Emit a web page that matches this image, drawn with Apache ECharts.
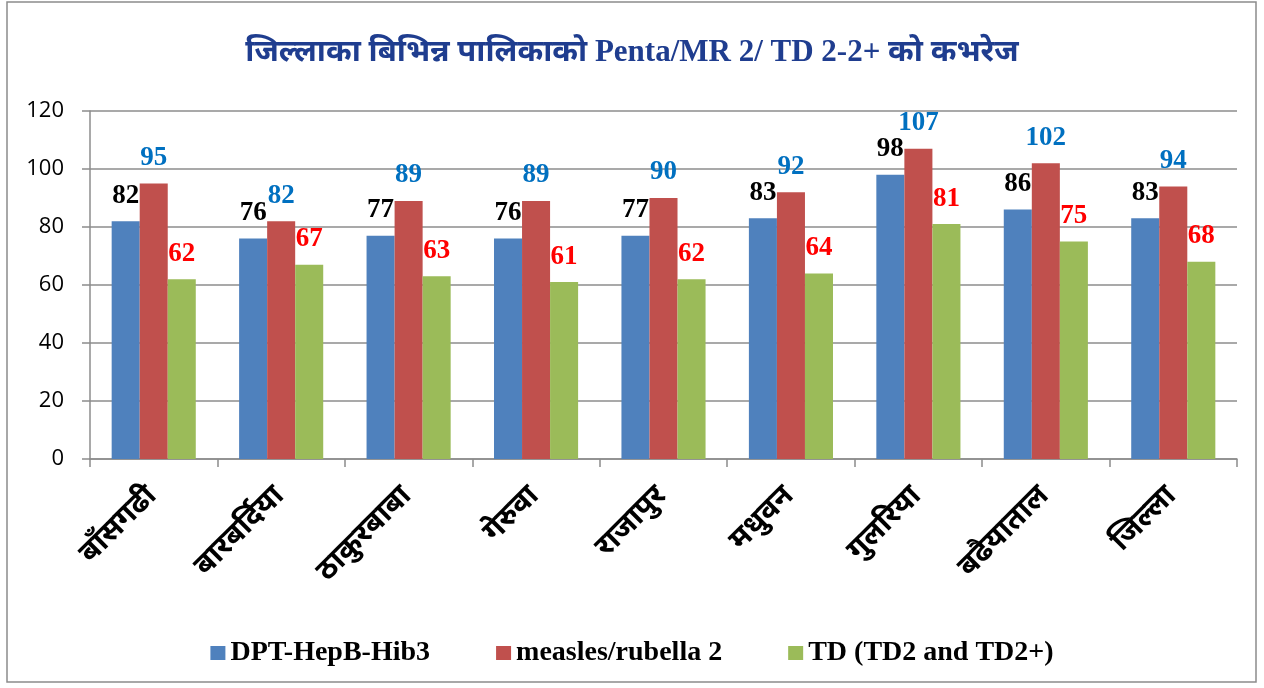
<!DOCTYPE html>
<html><head><meta charset="utf-8">
<script src="https://cdn.jsdelivr.net/npm/echarts@6/dist/echarts.min.js"></script>
<style>html,body{margin:0;padding:0;background:#fff}#c{width:1264px;height:688px}</style>
</head><body><div id="c"></div>
<script>
const categories = ['बाँसगढी','बारबर्दिया','ठाकुरबाबा','गेरुवा','राजापुर','मधुवन','गुलरिया','बढैयाताल','जिल्ला'];
const dptHepBHib3 = [82, 76, 77, 76, 77, 83, 98, 86, 83];
const measlesRubella2 = [95, 82, 89, 89, 90, 92, 107, 102, 94];
const tdValues = [62, 67, 63, 61, 62, 64, 81, 75, 68];
const seriesNames = ['DPT-HepB-Hib3', 'measles/rubella 2', 'TD (TD2 and TD2+)'];
const yTicks = [0, 20, 40, 60, 80, 100, 120];

const serif = '"Liberation Serif", "Noto Sans Devanagari", "Noto Sans", serif';
const devFont = '"Noto Sans Devanagari", "Lohit Devanagari", "Noto Sans", "Liberation Serif", sans-serif';

const chart = echarts.init(document.getElementById('c'), null, {renderer: 'canvas'});
function mk(name, data, color, labelColor) {
  return {
    name, type: 'bar', data, barGap: '0%', barCategoryGap: '34%',
    itemStyle: {color},
    label: {show: true, position: 'top', distance: 12, color: labelColor,
      fontFamily: serif, fontWeight: 'bold', fontSize: 27}
  };
}
chart.setOption({
  animation: false,
  title: {
    text: 'जिल्लाका बिभिन्न पालिकाको Penta/MR 2/ TD 2-2+ को कभरेज',
    left: 'center', top: 32,
    textStyle: {color: '#1F3D8F', fontSize: 31, fontWeight: 'bold', fontFamily: serif}
  },
  legend: {
    top: 634, left: 'center', itemWidth: 15, itemHeight: 14, itemGap: 66,
    icon: 'rect',
    textStyle: {fontSize: 28, fontWeight: 'bold', fontFamily: serif, color: '#000'},
    data: seriesNames
  },
  grid: {left: 90, right: 27, top: 111, bottom: 229, containLabel: false},
  xAxis: {
    type: 'category', data: categories,
    axisLine: {lineStyle: {color: '#8c8c8c', width: 1.5}},
    axisTick: {show: true, length: 8, alignWithLabel: false, lineStyle: {color: '#8c8c8c', width: 1.5}},
    axisLabel: {interval: 0, rotate: 45, margin: 34, color: '#000', fontSize: 30, fontWeight: 'bold', fontFamily: devFont}
  },
  yAxis: {
    type: 'value', min: 0, max: 120, interval: 20,
    axisLine: {show: true, lineStyle: {color: '#8c8c8c', width: 1.5}},
    axisTick: {show: true, length: 8, lineStyle: {color: '#8c8c8c', width: 1.5}},
    splitLine: {lineStyle: {color: '#8c8c8c', width: 1.5}},
    axisLabel: {margin: 26, color: '#000', fontSize: 22, fontFamily: '"Open Sans", "Liberation Sans", sans-serif',
      formatter: v => yTicks.includes(v) ? String(v) : ''}
  },
  graphic: [{type: 'rect', shape: {x: 7, y: 2, width: 1249, height: 680},
    style: {fill: 'none', stroke: '#8c8c8c', lineWidth: 1.5}, silent: true}],
  series: [
    mk(seriesNames[0], dptHepBHib3, '#4F81BD', '#000000'),
    mk(seriesNames[1], measlesRubella2, '#C0504D', '#0070C0'),
    mk(seriesNames[2], tdValues, '#9BBB59', '#FF0000')
  ]
});
</script></body></html>
